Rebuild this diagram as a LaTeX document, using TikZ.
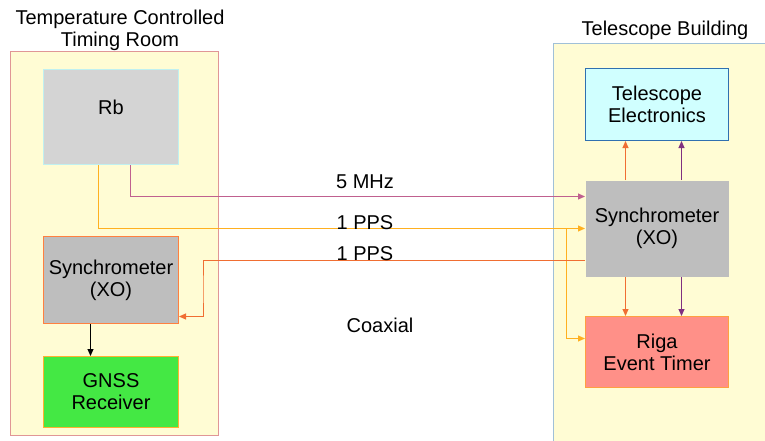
\documentclass[tikz,border=0pt]{standalone}
\usepackage{fontspec}
\setmainfont{Liberation Sans}
\usetikzlibrary{arrows.meta,calc}
\definecolor{roomfill}{RGB}{255,252,212}
\definecolor{roomL}{RGB}{224,150,150}
\definecolor{roomR}{RGB}{160,192,216}
\definecolor{rbfill}{RGB}{212,212,212}
\definecolor{rbline}{RGB}{192,240,240}
\definecolor{syncfill}{RGB}{190,190,190}
\definecolor{orangeline}{RGB}{255,128,64}
\definecolor{gnssfill}{RGB}{68,232,68}
\definecolor{gnssline}{RGB}{255,176,48}
\definecolor{tefill}{RGB}{208,255,255}
\definecolor{teline}{RGB}{48,112,176}
\definecolor{rigafill}{RGB}{255,144,136}
\definecolor{rigaline}{RGB}{255,160,64}
\definecolor{mhzcol}{RGB}{192,96,143}
\definecolor{ppsY}{RGB}{255,176,32}
\definecolor{ppsR}{RGB}{240,110,50}
\definecolor{purp}{RGB}{128,48,128}
\tikzset{
  txt/.style={font=\fontsize{20}{22}\selectfont, align=center, inner sep=0pt},
  box/.style={txt, draw, line width=1pt, minimum width=135pt, anchor=north west},
  sig/.style={line width=1pt, -{Triangle[length=7pt,width=6pt]}},
}
\begin{document}
\begin{tikzpicture}[x=1pt,y=-1pt]
\useasboundingbox (0,0) rectangle (765,441);
% rooms
\fill[roomfill] (10,52) rectangle (218,435);
\draw[roomL, line width=1pt] (10,52) rectangle (218,435);
\fill[roomfill] (553,44) rectangle (780,450);
\draw[roomR, line width=1pt] (780,44) -- (553,44) -- (553,450);
\node[txt] (tleft) at (120,30) {Temperature Controlled\\Timing Room};
\node[txt] (tright) at (665,30) {Telescope Building};
% left boxes
\node[box, fill=rbfill, draw=rbline, minimum height=95pt] (rb) at (43,69) {};
\node[txt] (rblabel) at ([yshift=10pt]rb.center) {Rb};
\node[box, fill=syncfill, draw=orangeline, minimum height=87pt] (syncL) at (43,236) {Synchrometer\\(XO)};
\node[box, fill=gnssfill, draw=gnssline, minimum height=71pt] (gnss) at (43,356) {GNSS\\Receiver};
% right boxes
\node[box, fill=tefill, draw=teline, minimum width=143pt, minimum height=72pt] (te) at (585,68) {Telescope\\Electronics};
\node[box, fill=syncfill, draw=none, minimum width=143pt, minimum height=96pt] (syncR) at (585,180) {Synchrometer\\(XO)};
\node[box, fill=rigafill, draw=rigaline, minimum width=143pt, minimum height=71pt] (riga) at (585,316) {Riga\\Event Timer};
% connectors
\draw[sig, black] ([xshift=-20.5pt]syncL.south) -- ([xshift=-20.5pt]gnss.north);
\draw[sig, mhzcol] ([xshift=19.5pt]rb.south) |- ([yshift=32pt]syncR.west);
\draw[sig, ppsY] ([xshift=-12.5pt]rb.south) |- (syncR.west);
\coordinate (br) at (566,228);
\draw[sig, ppsY] (br) |- ([yshift=13.5pt]riga.west);
\coordinate (turn) at (203,290);
\draw[sig, ppsR] ([yshift=-32pt]syncR.west) -| (turn) |- ([yshift=-36.5pt]syncL.east);
\draw[sig, ppsR] ([xshift=-31.5pt]syncR.north) -- ([xshift=-31.5pt]te.south);
\draw[sig, purp] ([xshift=24.5pt]syncR.north) -- ([xshift=24.5pt]te.south);
\draw[sig, ppsR] ([xshift=-31.5pt]syncR.south) -- ([xshift=-31.5pt]riga.north);
\draw[sig, purp] ([xshift=24.5pt]syncR.south) -- ([xshift=24.5pt]riga.north);
% labels
\node[txt] (l5mhz) at (365,182) {5 MHz};
\node[txt] (lpps1) at (365,223) {1 PPS};
\node[txt] (lpps2) at (365,254) {1 PPS};
\node[txt] (lcoax) at (380,325) {Coaxial};
\end{tikzpicture}
\end{document}
